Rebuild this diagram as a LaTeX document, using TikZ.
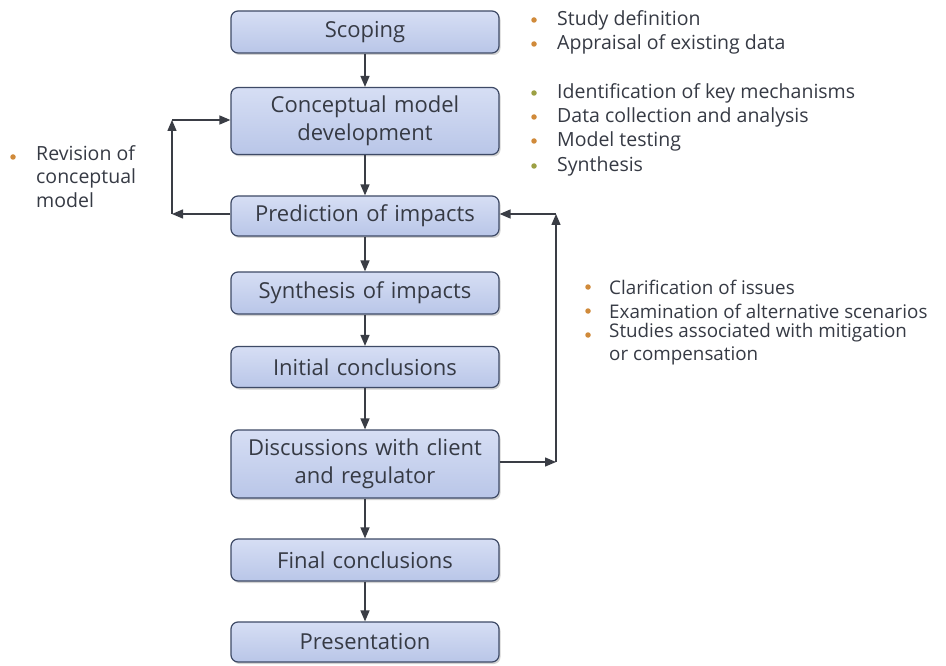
\documentclass[tikz,border=0pt]{standalone}
\usepackage{fontspec}
\setmainfont{Open Sans}
\usetikzlibrary{arrows.meta,shadows}
\definecolor{boxfillA}{HTML}{D6DEF4}
\definecolor{boxfillB}{HTML}{B9C6E8}
\definecolor{boxdraw}{HTML}{3E4A66}
\definecolor{txt}{HTML}{363A44}
\definecolor{arr}{HTML}{3A3D45}
\definecolor{bulorange}{HTML}{D08A3A}
\definecolor{bulolive}{HTML}{9CA044}
\tikzset{
  stepbox/.style={draw=boxdraw, line width=1.2pt, rounded corners=7pt,
    top color=boxfillA, bottom color=boxfillB,
    drop shadow={shadow xshift=1.5pt, shadow yshift=-2pt, opacity=0.35},
    minimum width=268pt, text width=266pt, align=center, text=txt,
    font=\fontsize{22}{28}\selectfont, inner sep=0pt},
  conn/.style={draw=arr, line width=1.4pt, -{Triangle[length=11pt,width=9pt]}},
  bul/.style={circle, inner sep=0pt, minimum size=5.5pt},
  btxt/.style={anchor=west, text=txt, font=\fontsize{19.5}{23.5}\selectfont, inner sep=0pt, align=left},
  rtxt/.style={btxt, font=\fontsize{18.8}{23.5}\selectfont}
}
\begin{document}
\begin{tikzpicture}[x=1pt,y=-1pt]
\useasboundingbox[fill=white] (0,0) rectangle (946,666);
% boxes
\node[stepbox, minimum height=42pt] (scop) at (365,32) {Scoping};
\node[stepbox, minimum height=67pt] (conc) at (365,121) {Conceptual model\\development};
\node[stepbox, minimum height=40pt] (pred) at (365,216) {Prediction of impacts};
\node[stepbox, minimum height=42pt] (synt) at (365,293) {Synthesis of impacts};
\node[stepbox, minimum height=41pt] (init) at (365,367) {Initial conclusions};
\node[stepbox, minimum height=68pt] (disc) at (365,464) {Discussions with client\\and regulator};
\node[stepbox, minimum height=42pt] (fina) at (365,560) {Final conclusions};
\node[stepbox, minimum height=40pt] (pres) at (365,642) {Presentation};
% main chain
\draw[conn] (scop) -- (conc);
\draw[conn] (conc) -- (pred);
\draw[conn] (pred) -- (synt);
\draw[conn] (synt) -- (init);
\draw[conn] (init) -- (disc);
\draw[conn] (disc) -- (fina);
\draw[conn] (fina) -- (pres);
% left loop
\coordinate (lb) at (172,214);
\coordinate (lt) at (172,120);
\draw[conn] (pred.west |- lb) -- (lb);
\draw[conn] (lb) -- (lt);
\draw[conn] (lt) -- (conc.west |- lt);
% right loop
\coordinate (rb) at (556,462);
\coordinate (rt) at (556,214);
\draw[conn] (disc.east |- rb) -- (rb);
\draw[conn] (rb) -- (rt);
\draw[conn] (rt) -- (pred.east |- rt);
% bullets top
\node[bul, fill=bulorange] (b1) at (534,20) {};
\node[btxt] (t1) at (557,20) {Study definition};
\node[bul, fill=bulorange] (b2) at (534,44) {};
\node[btxt] (t2) at (557,44) {Appraisal of existing data};
\node[bul, fill=bulolive] (b3) at (534,93) {};
\node[btxt] (t3) at (557,93) {Identification of key mechanisms};
\node[bul, fill=bulorange] (b4) at (534,117) {};
\node[btxt] (t4) at (557,117) {Data collection and analysis};
\node[bul, fill=bulorange] (b5) at (534,141) {};
\node[btxt] (t5) at (557,141) {Model testing};
\node[bul, fill=bulolive] (b6) at (534,166) {};
\node[btxt] (t6) at (557,166) {Synthesis};
% left bullets
\node[bul, fill=bulorange] (b7) at (13,157) {};
\node[btxt, anchor=north west] (t7) at (36,145) {Revision of\\conceptual\\model};
% right bullets
\node[bul, fill=bulorange] (b8) at (588,287) {};
\node[rtxt] (t8) at (609,287) {Clarification of issues};
\node[bul, fill=bulorange] (b9) at (588,311) {};
\node[rtxt] (t9) at (609,311) {Examination of alternative scenarios};
\node[bul, fill=bulorange] (b10) at (588,335) {};
\node[rtxt, anchor=north west] (t10) at (609,323) {Studies associated with mitigation\\or compensation};
\end{tikzpicture}
\end{document}
